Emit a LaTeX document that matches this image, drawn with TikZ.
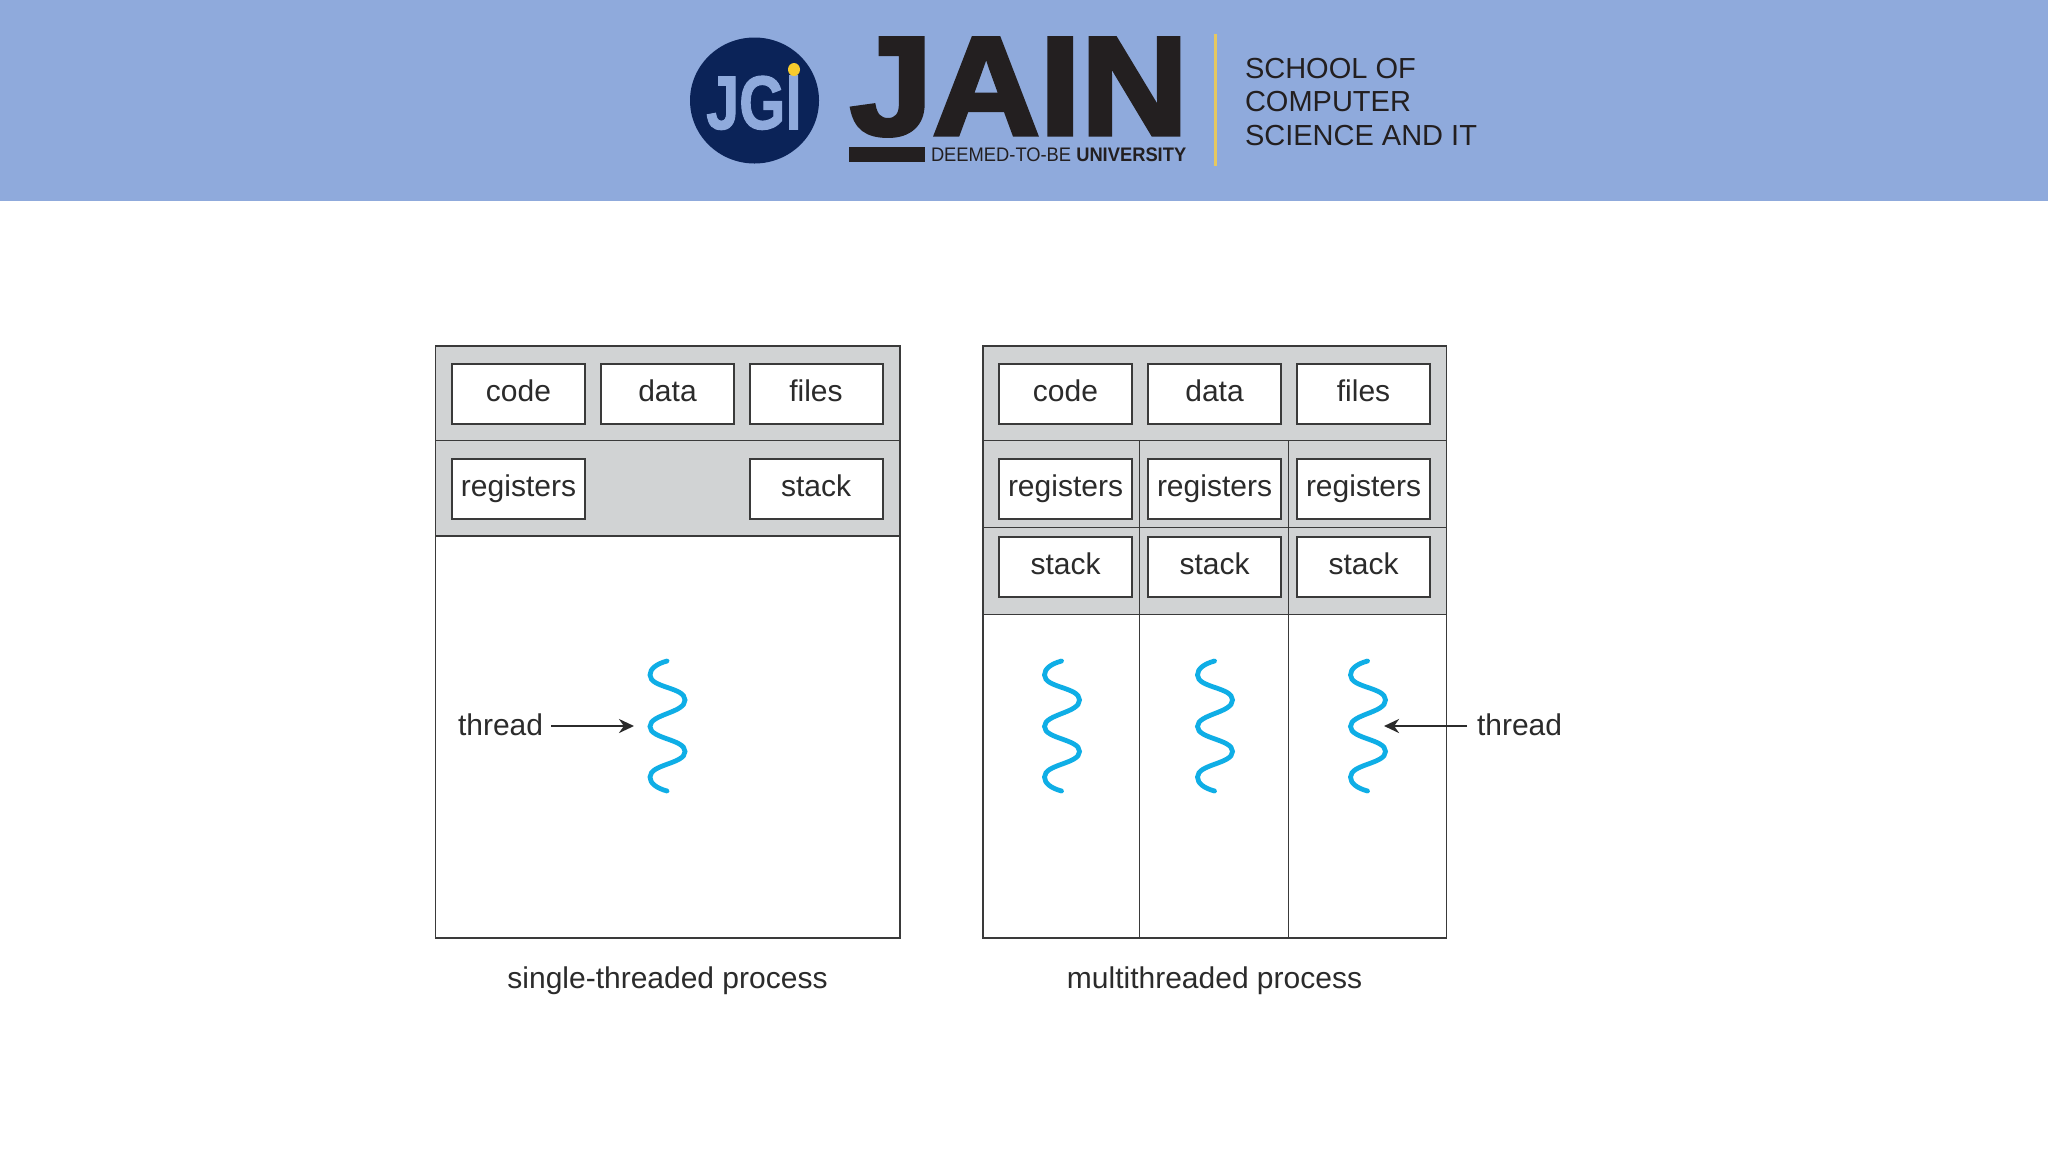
\documentclass[tikz,border=0pt]{standalone}
\usepackage{fontspec}
\setmainfont{Liberation Sans}
\newfontfamily\jainfont[FakeBold=3]{Liberation Sans Bold}
\newfontfamily\jgifont[FakeBold=1.5]{Liberation Sans Bold}
\usetikzlibrary{arrows.meta,calc}
\definecolor{banner}{HTML}{8FAADC}
\definecolor{navy}{HTML}{0B2358}
\definecolor{ink}{HTML}{231F20}
\definecolor{gold}{HTML}{E6C860}
\definecolor{yel}{HTML}{F7CB2D}
\definecolor{panelgrey}{HTML}{D1D3D4}
\definecolor{rule}{HTML}{3A3A3A}
\definecolor{txt}{HTML}{2B2B2B}
\definecolor{threadblue}{HTML}{0FAEE6}
\tikzset{
  x=0.5pt,y=-0.5pt,
  panel/.style={draw=rule,line width=0.8pt},
  band/.style={fill=panelgrey,draw=rule,line width=0.8pt},
  divider/.style={draw=rule,line width=0.8pt},
  cellbox/.style={draw=rule,line width=1pt,fill=white,inner sep=0pt,outer sep=0pt,
    text width=66.5pt,align=center,text height=18.75pt,text depth=11.25pt,
    font=\fontsize{15}{18}\selectfont,text=txt},
  label/.style={inner sep=0pt,outer sep=0pt,font=\fontsize{15}{18}\selectfont,text=txt},
  logotext/.style={inner sep=0pt,outer sep=0pt,text=ink},
  wave/.style={draw=threadblue,line width=2.4pt,line cap=round},
  pointer/.style={draw=txt,line width=1.4pt,-{Stealth[length=7.5pt,width=7pt]}},
}
\newcommand{\threadwave}[1]{%
  \draw[wave,shift={(#1,0)}] (0,661) .. controls (-11,664) and (-17,669) .. (-17,675)
    .. controls (-17,688) and (18,687) .. (18,700)
    .. controls (18,713) and (-17,714) .. (-17,726.5)
    .. controls (-17,739) and (18,739) .. (18,751.5)
    .. controls (18,764) and (-17,764) .. (-17,777)
    .. controls (-17,783) and (-11,788) .. (0,791);}
\begin{document}
\begin{tikzpicture}
\useasboundingbox (0,0) rectangle (2048,1152);
\fill[white] (0,0) rectangle (2048,1152);
% banner
\fill[banner] (0,0) rectangle (2048,201);
\fill[navy] (754.5,100.5) ellipse [x radius=64.5,y radius=63];
\begin{scope}
  \clip (700,75.5) rectangle (812,135);
  \node[logotext,text=banner,anchor=base,font=\jgifont\fontsize{38}{40}\selectfont] (jgi) at (754,129)
    {\scalebox{.78}[1]{JG\scalebox{1}[1.38]{i}}};
\end{scope}
\fill[yel] (794,69.5) ellipse [x radius=6,y radius=6.5];
\node[logotext,anchor=base west,font=\jainfont\fontsize{70}{72}\selectfont] (jain) at (850,134.5)
  {\scalebox{1.06}[1]{JAIN}};
\fill[ink] (849,146.7) rectangle (924.5,162.3);
\node[logotext,anchor=base west,font=\fontsize{9.8}{11}\selectfont] (deemed) at (931,161.5)
  {\scalebox{.935}[1]{DEEMED-TO-BE \textbf{UNIVERSITY}}};
\fill[gold] (1214.2,34) rectangle (1217.2,166);
\node[logotext,anchor=base west,font=\fontsize{14.5}{16}\selectfont] (sch1) at (1245,78) {SCHOOL OF};
\node[logotext,anchor=base west,font=\fontsize{14.5}{16}\selectfont] (sch2) at (1245,111.5) {COMPUTER};
\node[logotext,anchor=base west,font=\fontsize{14.5}{16}\selectfont] (sch3) at (1245,145) {SCIENCE AND IT};
% left panel
\draw[band] (435.5,346) rectangle (900,440.5);
\draw[band] (435.5,440.5) rectangle (900,536);
\draw[panel] (435.5,536) rectangle (900,938);
\node[cellbox] (lcode) at (518.5,393.5) {code};
\node[cellbox] (ldata) at (667.5,393.5) {data};
\node[cellbox] (lfiles) at (816,393.5) {files};
\node[cellbox] (lreg) at (518.5,489) {registers};
\node[cellbox] (lstack) at (816,489) {stack};
\threadwave{667}
\node[label,anchor=base west] (tl) at (458,735) {thread};
\coordinate (ltip) at (634,726);
\draw[pointer] ([xshift=4pt]tl.east |- ltip) -- (ltip);
\node[label,anchor=base] (capl) at (667.5,988) {single-threaded process};
% right panel
\draw[band] (983,346) rectangle (1446.5,440.5);
\draw[band] (983,440.5) rectangle (1446.5,527.5);
\draw[band] (983,527.5) rectangle (1446.5,614.5);
\draw[panel] (983,614.5) rectangle (1446.5,938);
\draw[divider] (1139.5,440.5) -- (1139.5,938);
\draw[divider] (1288.5,440.5) -- (1288.5,938);
\foreach \nm/\cx in {a/1065.5,b/1214.5,c/1363.5}{
  \node[cellbox] (reg\nm) at (\cx,489) {registers};
  \node[cellbox] (stack\nm) at (\cx,566.5) {stack};
}
\node[cellbox] (rcode) at (1065.5,393.5) {code};
\node[cellbox] (rdata) at (1214.5,393.5) {data};
\node[cellbox] (rfiles) at (1363.5,393.5) {files};
\threadwave{1061.5}
\threadwave{1214.5}
\threadwave{1367.5}
\node[label,anchor=base west] (tr) at (1477,735) {thread};
\coordinate (rtip) at (1384,726);
\draw[pointer] ([xshift=-5pt]tr.west |- rtip) -- (rtip);
\node[label,anchor=base] (capr) at (1214.5,988) {multithreaded process};
\end{tikzpicture}
\end{document}
